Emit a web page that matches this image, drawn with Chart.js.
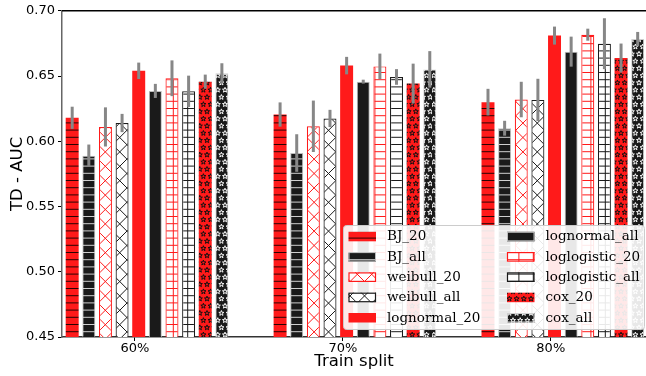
<!DOCTYPE html>
<html>
<head>
<meta charset="utf-8">
<title>TD - AUC by train split</title>
<script src="https://cdn.jsdelivr.net/npm/chart.js@4.4.1/dist/chart.umd.min.js"></script>
<style>
    html, body { margin: 0; padding: 0; background: #fff; overflow: hidden; }
    #wrap { width: 646px; height: 376px; }
</style>
</head>
<body>
<div id="wrap"><canvas id="chartAuc" width="646" height="376"></canvas></div>
<script>
// Categories and tick labels
const splits = ['60%', '70%', '80%'];
const yTicks = [0.45, 0.50, 0.55, 0.60, 0.65, 0.70];
const modelNames = ['BJ_20', 'BJ_all', 'weibull_20', 'weibull_all', 'lognormal_20',
    'lognormal_all', 'loglogistic_20', 'loglogistic_all', 'cox_20', 'cox_all'];

// Mean TD-AUC per split, and half-length of the error bars
const bj20 = [0.618, 0.6205, 0.630];
const bj20Err = [0.0085, 0.0093, 0.0102];
const bjAll = [0.589, 0.591, 0.610];
const bjAllErr = [0.0085, 0.0144, 0.0057];
const weibull20 = [0.611, 0.6115, 0.632];
const weibull20Err = [0.015, 0.0197, 0.0136];
const weibullAll = [0.614, 0.6175, 0.6317];
const weibullAllErr = [0.007, 0.0066, 0.0162];
const lognormal20 = [0.654, 0.658, 0.681];
const lognormal20Err = [0.0063, 0.0067, 0.0069];
const lognormalAll = [0.6386, 0.6457, 0.6687];
const lognormalAllErr = [0.0054, 0.0015, 0.0115];
const loglogistic20 = [0.6483, 0.6574, 0.6817];
const loglogistic20Err = [0.0137, 0.0098, 0.0046];
const loglogisticAll = [0.6383, 0.6493, 0.6748];
const loglogisticAllErr = [0.012, 0.006, 0.0195];
const cox20 = [0.6457, 0.6442, 0.6638];
const cox20Err = [0.0054, 0.0153, 0.0111];
const coxAll = [0.6521, 0.6551, 0.6783];
const coxAllErr = [0.0077, 0.014, 0.0055];

const RED = '#ff1a1a';
const BLACK = '#1a1a1a';

const canvas = document.getElementById('chartAuc');
const ctx = canvas.getContext('2d');

// Hatch tiles (72px tile, lines every 7.2px like matplotlib hatches)
function makePattern(bg, draw) {
    const c = document.createElement('canvas');
    c.width = 72;
    c.height = 72;
    const g = c.getContext('2d');
    g.fillStyle = bg;
    g.fillRect(0, 0, 72, 72);
    draw(g);
    return ctx.createPattern(c, 'repeat');
}

function hLines(color) {
    return g => {
        g.strokeStyle = color;
        g.lineWidth = 1;
        for (let k = 0; k < 10; k++) {
            const y = k * 7.2 + 0.5;
            g.beginPath(); g.moveTo(0, y); g.lineTo(72, y); g.stroke();
        }
    };
}

function crossLines(color) {
    return g => {
        g.strokeStyle = color;
        g.lineWidth = 1;
        for (let k = -6; k <= 6; k++) {
            const p = 11 + k * 14.4;
            g.beginPath(); g.moveTo(p - 10, -10); g.lineTo(p + 82, 82); g.stroke();
            const q = 12.4 + k * 14.4 + 72;
            g.beginPath(); g.moveTo(q + 10, -10); g.lineTo(q - 82, 82); g.stroke();
        }
    };
}

function gridLines(color) {
    return g => {
        hLines(color)(g);
        g.strokeStyle = color;
        for (let k = 0; k < 5; k++) {
            const x = k * 14.4 + 0.5;
            g.beginPath(); g.moveTo(x, 0); g.lineTo(x, 72); g.stroke();
        }
    };
}

function stars(color) {
    return g => {
        g.strokeStyle = color;
        g.lineWidth = 1;
        for (let r = 0; r < 10; r++) {
            for (let c = 0; c < 10; c++) {
                const cx = c * 7.2 + (r % 2 ? 3.6 : 0) + 1.8;
                const cy = r * 7.2 + 3.6;
                g.beginPath();
                for (let p = 0; p < 10; p++) {
                    const rad = p % 2 ? 1.1 : 2.7;
                    const a = -Math.PI / 2 + p * Math.PI / 5;
                    const px = cx + rad * Math.cos(a), py = cy + rad * Math.sin(a);
                    p ? g.lineTo(px, py) : g.moveTo(px, py);
                }
                g.closePath();
                g.stroke();
            }
        }
    };
}

// Per-series style
const series = [
    { values: bj20, errors: bj20Err, bg: makePattern(RED, hLines('rgba(20,0,0,0.9)')), border: RED, bw: 0 },
    { values: bjAll, errors: bjAllErr, bg: makePattern(BLACK, hLines('#d0d0d0')), border: '#bdbdbd', bw: 1 },
    { values: weibull20, errors: weibull20Err, bg: makePattern('#fff', crossLines(RED)), border: RED, bw: 1.2 },
    { values: weibullAll, errors: weibullAllErr, bg: makePattern('#fff', crossLines(BLACK)), border: BLACK, bw: 1.2 },
    { values: lognormal20, errors: lognormal20Err, bg: RED, border: RED, bw: 0 },
    { values: lognormalAll, errors: lognormalAllErr, bg: BLACK, border: '#bdbdbd', bw: 1 },
    { values: loglogistic20, errors: loglogistic20Err, bg: makePattern('#fff', gridLines(RED)), border: RED, bw: 1.2 },
    { values: loglogisticAll, errors: loglogisticAllErr, bg: makePattern('#fff', gridLines(BLACK)), border: BLACK, bw: 1.2 },
    { values: cox20, errors: cox20Err, bg: makePattern(RED, stars('#111')), border: RED, bw: 0 },
    { values: coxAll, errors: coxAllErr, bg: makePattern(BLACK, stars('#f4f4f4')), border: '#cfcfcf', bw: 1 }
];

const datasets = series.map((s, k) => ({
    label: modelNames[k],
    data: s.values.map((v, i) => ({ x: i, y: v })),
    errors: s.errors,
    backgroundColor: s.bg,
    borderColor: s.border,
    borderWidth: s.bw,
    borderSkipped: false,
    xAxisID: 'x',
    yAxisID: 'y'
}));

// Gray error bars drawn on top of the bars
const errorBars = {
    id: 'errorBars',
    afterDatasetsDraw(chart) {
        const c = chart.ctx;
        const y = chart.scales.y;
        c.save();
        c.strokeStyle = '#878787';
        c.lineWidth = 3;
        chart.data.datasets.forEach((ds, di) => {
            chart.getDatasetMeta(di).data.forEach((bar, i) => {
                const v = ds.data[i].y, e = ds.errors[i];
                c.beginPath();
                c.moveTo(bar.x, y.getPixelForValue(v - e));
                c.lineTo(bar.x, y.getPixelForValue(v + e));
                c.stroke();
            });
        });
        c.restore();
    }
};

// Top spine + two-column legend inside the plot
const frameAndLegend = {
    id: 'frameAndLegend',
    afterDraw(chart) {
        const c = chart.ctx;
        const a = chart.chartArea;
        c.save();
        c.strokeStyle = '#000';
        c.lineWidth = 1.5;
        c.beginPath(); c.moveTo(a.left, a.top); c.lineTo(a.right, a.top); c.stroke();

        // legend box
        const lx = 343.5, ly = 225.5, lw = 301, lh = 104;
        c.fillStyle = 'rgba(255,255,255,0.9)';
        c.strokeStyle = '#cccccc';
        c.lineWidth = 1;
        c.beginPath();
        c.roundRect(lx, ly, lw, lh, 3);
        c.fill();
        c.stroke();

        c.font = "13.5px 'DejaVu Serif'";
        c.textBaseline = 'middle';
        c.textAlign = 'left';
        chart.data.datasets.forEach((ds, i) => {
            const col = Math.floor(i / 5), row = i % 5;
            const cy = 236.3 + row * 20.3;
            const px = 348.5 + col * 158.5;
            c.fillStyle = ds.backgroundColor;
            c.fillRect(px, cy - 4.5, 27.5, 9.5);
            if (ds.borderWidth > 0) {
                c.strokeStyle = ds.borderColor;
                c.lineWidth = ds.borderWidth;
                c.strokeRect(px + 0.5, cy - 4, 26.5, 8.5);
            }
            c.fillStyle = '#000';
            c.fillText(ds.label, 387 + col * 158.5, cy + 0.5);
        });
        c.restore();
    }
};

Chart.defaults.color = '#000';
Chart.defaults.font.family = "'DejaVu Sans'";

const splitTicks = s => { s.ticks = splits.map((_, i) => ({ value: i })); };

new Chart(ctx, {
    type: 'bar',
    data: { datasets: datasets },
    plugins: [errorBars, frameAndLegend],
    options: {
        responsive: false,
        animation: false,
        devicePixelRatio: 1,
        layout: { padding: { top: 10, left: 0, right: 0, bottom: 0 } },
        categoryPercentage: 0.8,
        barPercentage: 0.78,
        plugins: {
            legend: { display: false },
            tooltip: { enabled: false }
        },
        scales: {
            x: {
                type: 'linear',
                display: false,
                min: -0.409,
                max: 2.40,
                offset: false,
                afterBuildTicks: splitTicks,
                grid: { offset: false }
            },
            xt: {
                type: 'linear',
                position: 'bottom',
                min: -0.351,
                max: 2.458,
                offset: false,
                afterBuildTicks: splitTicks,
                afterFit: s => { s.height = 39; },
                ticks: {
                    autoSkip: false,
                    maxRotation: 0,
                    padding: 0,
                    font: { size: 13 },
                    callback: v => splits[v]
                },
                grid: { offset: false, drawOnChartArea: false, tickLength: 4, tickColor: '#000', tickWidth: 1 },
                border: { color: '#333', width: 1.5 },
                title: {
                    display: true,
                    text: 'Train split',
                    font: { size: 16.5, lineHeight: 1.2 },
                    padding: { top: 0, bottom: 4 }
                }
            },
            y: {
                min: 0.45,
                max: 0.70,
                afterBuildTicks: s => { s.ticks = yTicks.map(v => ({ value: v })); },
                afterFit: s => { s.width = 62; },
                ticks: {
                    padding: 3,
                    font: { size: 13 },
                    callback: v => v.toFixed(2)
                },
                grid: { drawOnChartArea: false, tickLength: 4, tickColor: '#000', tickWidth: 1 },
                border: { color: '#666', width: 1.5 },
                title: {
                    display: true,
                    text: 'TD - AUC',
                    font: { size: 16.5, lineHeight: 1.2 },
                    padding: { top: 8, bottom: 0 }
                }
            }
        }
    }
});
</script>
</body>
</html>
